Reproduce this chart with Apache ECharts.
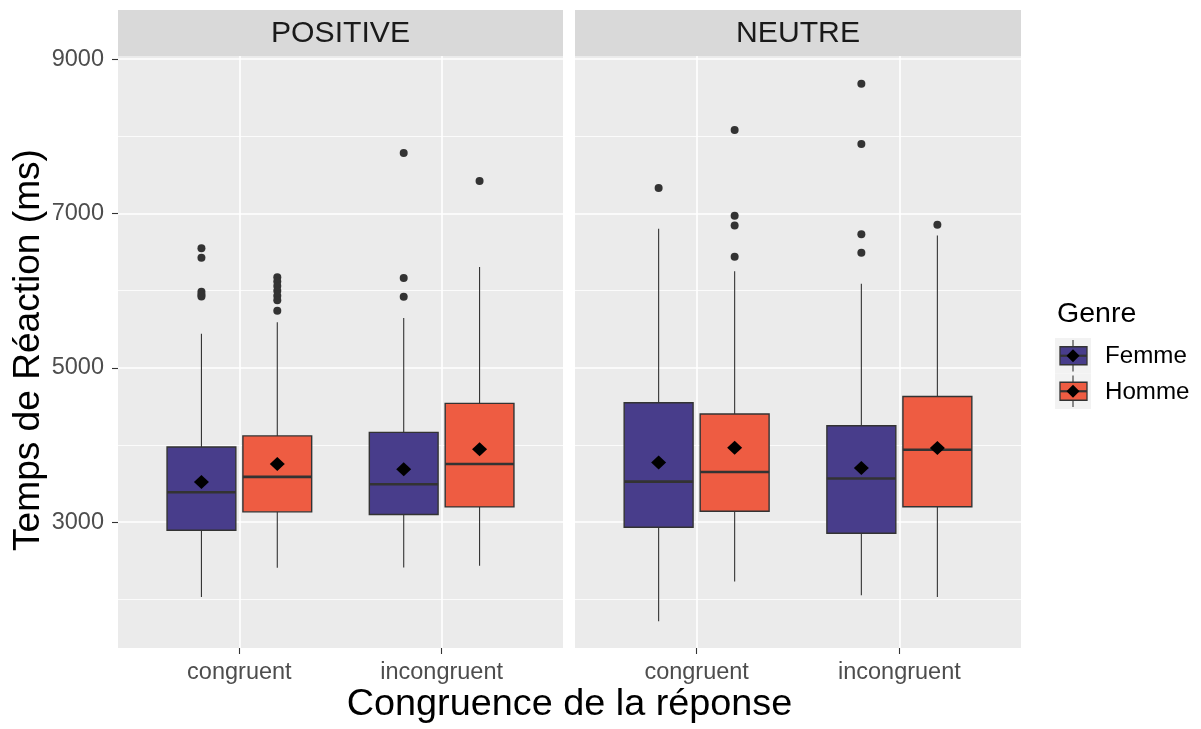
<!DOCTYPE html>
<html><head><meta charset="utf-8">
<script src="https://cdn.jsdelivr.net/npm/echarts@6/dist/echarts.min.js"></script>
<style>html,body{margin:0;padding:0;background:#fff}#c{width:1201px;height:729px}</style>
</head><body><div id="c"></div><script>
// ---- data ----
const panels = ['POSITIVE', 'NEUTRE'];
const congruence = ['congruent', 'incongruent'];
const genres = ['Femme', 'Homme'];
const yTicks = [3000, 5000, 7000, 9000];
const yMinor = [2000, 4000, 6000, 8000];
// five-number boxes [whiskerLow, q1, median, q3, whiskerHigh] : [panel][congruence]
const femmeBox = [
  [[2030, 2896, 3388, 3975, 5443], [2414, 3099, 3491, 4164, 5647]],
  [[1716, 2935, 3526, 4547, 6802], [2054, 2857, 3567, 4250, 6089]]
];
const hommeBox = [
  [[2409, 3134, 3587, 4118, 5590], [2435, 3198, 3754, 4539, 6306]],
  [[2233, 3142, 3651, 4401, 6250], [2031, 3201, 3938, 4629, 6714]]
];
const femmeMean = [[3522, 3685], [3772, 3701]];
const hommeMean = [[3755, 3944], [3966, 3960]];
const femmeOutliers = [
  [[6550, 6425, 5985, 5950, 5925], [7784, 6164, 5922]],
  [[7330], [8680, 7900, 6732, 6491]]
];
const hommeOutliers = [
  [[6172, 6120, 6060, 6000, 5935, 5875, 5741], [7422]],
  [[8080, 6970, 6845, 6440], [6853]]
];

// ---- styling / layout ----
const FONT = "'Liberation Sans', Arial, sans-serif";
const fills = ['#483D8B', '#EE5C42'];
const dodge = [-0.1875, 0.1875];
const BOX_W = 0.34;
const Y_MIN = 1370, Y_MAX = 9040;
const grids = [
  {left: 118, top: 56, width: 445, height: 592},
  {left: 575, top: 56, width: 446, height: 592}
];
const boxes = [femmeBox, hommeBox];
const means = [femmeMean, hommeMean];
const outs = [femmeOutliers, hommeOutliers];

const series = [];
grids.forEach((g, p) => {
  const ml = [];
  yMinor.forEach(v => ml.push({yAxis: v, lineStyle: {color: '#fff', width: 0.8, type: 'solid'}}));
  yTicks.forEach(v => ml.push({yAxis: v, lineStyle: {color: '#fff', width: 1.6, type: 'solid'}}));
  congruence.forEach((c, i) => ml.push({xAxis: i + 1, lineStyle: {color: '#fff', width: 1.6, type: 'solid'}}));
  series.push({
    type: 'line', xAxisIndex: p, yAxisIndex: p, data: [], silent: true,
    markLine: {silent: true, symbol: 'none', z: 1, animation: false, label: {show: false}, data: ml}
  });
  genres.forEach((gn, gi) => {
    const data = boxes[gi][p].map((b, ci) => [ci + 1].concat(b));
    series.push({
      type: 'custom', name: gn, xAxisIndex: p, yAxisIndex: p, z: 3, silent: true,
      encode: {x: 0, y: [1, 2, 3, 4, 5]},
      data: data,
      renderItem: function (params, api) {
        const x = api.value(0) + dodge[gi];
        const pLo = api.coord([x, api.value(1)]);
        const pQ1 = api.coord([x, api.value(2)]);
        const pMed = api.coord([x, api.value(3)]);
        const pQ3 = api.coord([x, api.value(4)]);
        const pHi = api.coord([x, api.value(5)]);
        const hw = api.size([BOX_W, 0])[0] / 2;
        const cx = pMed[0];
        const ls = {stroke: '#333333', lineWidth: 1.1};
        return {type: 'group', children: [
          {type: 'line', shape: {x1: cx, y1: pHi[1], x2: cx, y2: pQ3[1]}, style: ls},
          {type: 'line', shape: {x1: cx, y1: pQ1[1], x2: cx, y2: pLo[1]}, style: ls},
          {type: 'rect', shape: {x: cx - hw, y: pQ3[1], width: 2 * hw, height: pQ1[1] - pQ3[1]},
            style: {fill: fills[gi], stroke: '#333333', lineWidth: 1.4}},
          {type: 'line', shape: {x1: cx - hw, y1: pMed[1], x2: cx + hw, y2: pMed[1]},
            style: {stroke: '#333333', lineWidth: 2.6}}
        ]};
      }
    });
    const od = [];
    outs[gi][p].forEach((arr, ci) => arr.forEach(v => od.push([ci + 1 + dodge[gi], v])));
    series.push({
      type: 'scatter', xAxisIndex: p, yAxisIndex: p, z: 4, silent: true,
      symbol: 'circle', symbolSize: 8, itemStyle: {color: '#333333', opacity: 1}, data: od
    });
    series.push({
      type: 'scatter', xAxisIndex: p, yAxisIndex: p, z: 5, silent: true,
      symbol: 'diamond', symbolSize: [15, 14], itemStyle: {color: '#000000', opacity: 1},
      data: means[gi][p].map((v, ci) => [ci + 1 + dodge[gi], v])
    });
  });
});

const xAxes = grids.map((g, p) => ({
  type: 'value', gridIndex: p, min: 0.4, max: 2.6,
  axisLine: {show: false},
  splitLine: {show: false},
  axisTick: {show: true, customValues: [1, 2], length: 6, lineStyle: {color: '#333333', width: 1.1}},
  axisLabel: {show: true, customValues: [1, 2], margin: 13, fontSize: 23.5, fontFamily: FONT, color: '#4D4D4D',
    formatter: v => congruence[Math.round(v) - 1] || ''}
}));
const yAxes = grids.map((g, p) => ({
  type: 'value', gridIndex: p, min: Y_MIN, max: Y_MAX,
  axisLine: {show: false},
  splitLine: {show: false},
  axisTick: {show: p === 0, customValues: yTicks, length: 6, lineStyle: {color: '#333333', width: 1.1}},
  axisLabel: {show: p === 0, customValues: yTicks, margin: 14, fontSize: 23.5, fontFamily: FONT, color: '#4D4D4D',
    formatter: v => String(v)}
}));

// strips, axis titles, legend
const graphic = [];
grids.forEach((g, p) => {
  graphic.push({type: 'rect', left: g.left, top: 10, shape: {width: g.width, height: 46}, style: {fill: '#D9D9D9'}, silent: true});
  graphic.push({type: 'text', x: g.left + g.width / 2, y: 34, scaleX: 1.04, style: {text: panels[p], fontSize: 29, fontFamily: FONT,
    fill: '#1A1A1A', align: 'center', verticalAlign: 'middle'}, silent: true});
});
graphic.push({type: 'text', x: 569.5, y: 705, scaleX: 1.05, style: {text: 'Congruence de la réponse', fontSize: 36, fontFamily: FONT,
  fill: '#000000', align: 'center', verticalAlign: 'middle'}, silent: true});
graphic.push({type: 'text', x: 29, y: 350, rotation: Math.PI / 2, scaleX: 1.03, style: {text: 'Temps de Réaction (ms)', fontSize: 36, fontFamily: FONT,
  fill: '#000000', align: 'center', verticalAlign: 'middle'}, silent: true});
graphic.push({type: 'text', x: 1057, y: 314, scaleX: 1.02, style: {text: 'Genre', fontSize: 28, fontFamily: FONT,
  fill: '#000000', align: 'left', verticalAlign: 'middle'}, silent: true});
genres.forEach((gn, gi) => {
  const top = 338 + gi * 35.5, cx = 1073, cy = top + 17.75;
  graphic.push({type: 'rect', shape: {x: 1055, y: top, width: 36, height: 35.5}, style: {fill: '#F2F2F2'}, silent: true});
  graphic.push({type: 'line', shape: {x1: cx, y1: top + 2, x2: cx, y2: top + 33.5}, style: {stroke: '#333333', lineWidth: 1.1}, silent: true});
  graphic.push({type: 'rect', shape: {x: 1060, y: cy - 9, width: 27, height: 18}, style: {fill: fills[gi], stroke: '#333333', lineWidth: 1.3}, silent: true});
  graphic.push({type: 'line', shape: {x1: 1060, y1: cy, x2: 1087, y2: cy}, style: {stroke: '#333333', lineWidth: 2.2}, silent: true});
  graphic.push({type: 'polygon', shape: {points: [[cx, cy - 6.5], [cx + 6.5, cy], [cx, cy + 6.5], [cx - 6.5, cy]]}, style: {fill: '#000000'}, silent: true});
  graphic.push({type: 'text', x: 1105, y: cy + 1, scaleX: 1.05, style: {text: gn, fontSize: 23, fontFamily: FONT,
    fill: '#000000', align: 'left', verticalAlign: 'middle'}, silent: true});
});

const chart = echarts.init(document.getElementById('c'), null, {renderer: 'canvas'});
chart.setOption({
  backgroundColor: '#ffffff',
  animation: false,
  grid: grids.map(g => Object.assign({show: true, backgroundColor: '#EBEBEB', borderWidth: 0, containLabel: false}, g)),
  xAxis: xAxes,
  yAxis: yAxes,
  series: series,
  graphic: graphic
});
</script></body></html>
